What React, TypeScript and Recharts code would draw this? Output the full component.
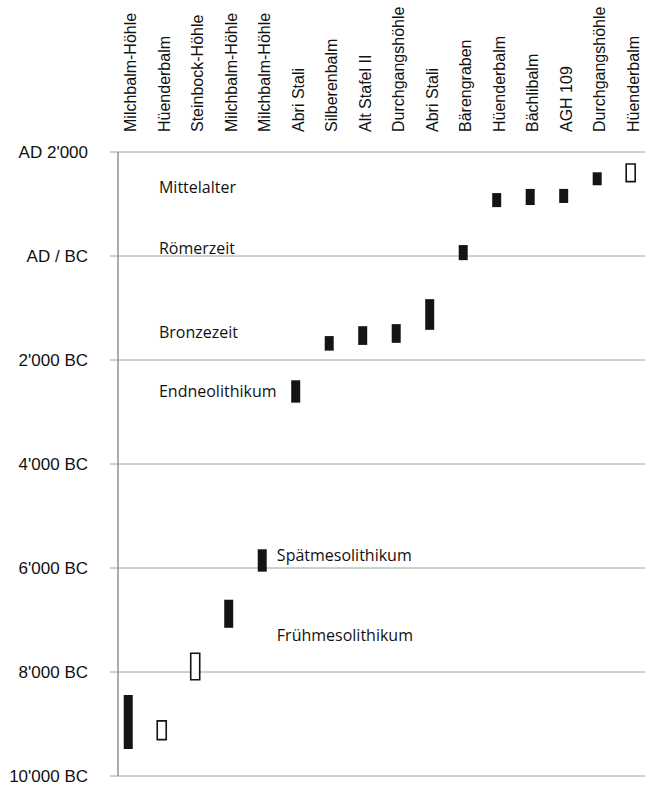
import React from 'react';
import {
  ComposedChart, Bar, Cell, XAxis, YAxis, CartesianGrid, ReferenceDot
} from 'recharts';

// Fundstellen (columns, left to right)
const sites = [
  'Milchbalm-Höhle', 'Hüenderbalm', 'Steinbock-Höhle', 'Milchbalm-Höhle', 'Milchbalm-Höhle',
  'Abri Stali', 'Silberenbalm', 'Alt Stafel II', 'Durchgangshöhle', 'Abri Stali',
  'Bärengraben', 'Hüenderbalm', 'Bächlibalm', 'AGH 109', 'Durchgangshöhle', 'Hüenderbalm'
];
// dating ranges, years (negative = BC)
const fromYears = [-9480, -9300, -8150, -7150, -6070, -2820, -1820, -1710, -1670, -1420, -80, 940, 980, 1020, 1360, 1430];
const toYears = [-8440, -8940, -7640, -6610, -5640, -2390, -1540, -1350, -1310, -830, 210, 1210, 1290, 1290, 1610, 1770];
// open boxes
const openBox = [false, true, true, false, false, false, false, false, false, false, false, false, false, false, false, true];

const yTicks = [-10000, -8000, -6000, -4000, -2000, 0, 2000];
const yTickLabels = ["10'000 BC", "8'000 BC", "6'000 BC", "4'000 BC", "2'000 BC", 'AD / BC', "AD 2'000"];

const eraNames = ['Mittelalter', 'Römerzeit', 'Bronzezeit', 'Endneolithikum', 'Spätmesolithikum', 'Frühmesolithikum'];
const eraYears = [1212, 38, -1577, -2712, -5865, -7404];
const eraCols = [0.91, 0.91, 0.91, 0.91, 4.43, 4.43];

const data = sites.map((s, i) => ({
  idx: i,
  site: s,
  range: [fromYears[i], toYears[i]],
  open: openBox[i]
}));

const GRID = '#97a69c';
const INK = '#141414';

const SiteTick = (props: any) => {
  const { x, y, payload } = props;
  return (
    <text
      x={0}
      y={0}
      transform={`translate(${x + 8},${y}) rotate(-90)`}
      textAnchor="start"
      fill="#111"
      fontSize={16}
      fontFamily="'Liberation Sans', Arial, sans-serif"
    >
      {sites[payload.value]}
    </text>
  );
};

const EraLabel = (name: string) => (props: any) => (
  <text
    x={props.cx}
    y={props.cy}
    fill="#111"
    fontSize={16}
    fontFamily="'Open Sans', sans-serif"
  >
    {name}
  </text>
);

export default function App() {
  return (
    <div style={{ position: 'absolute', left: 0, top: 0, width: 645, height: 787, background: '#fff', overflow: 'hidden' }}>
      <style>{'html, body { overflow: hidden; margin: 0; }'}</style>
      <ComposedChart
        width={645}
        height={787}
        data={data}
        margin={{ top: 0, right: 0, bottom: 11, left: 0 }}
      >
        <CartesianGrid vertical={false} stroke={GRID} strokeWidth={1} />
        <XAxis
          dataKey="idx"
          type="number"
          orientation="top"
          domain={[-0.313, 15.42]}
          allowDataOverflow
          ticks={sites.map((_, i) => i)}
          height={152}
          axisLine={false}
          tickLine={false}
          tickSize={0}
          tickMargin={20}
          interval={0}
          tick={<SiteTick />}
        />
        <YAxis
          type="number"
          domain={[-10000, 2000]}
          ticks={yTicks}
          width={118}
          interval={0}
          axisLine={{ stroke: '#5a5a5a', strokeWidth: 1 }}
          tickLine={{ stroke: GRID }}
          tickSize={8}
          tickMargin={22}
          tickFormatter={(v: number) => yTickLabels[yTicks.indexOf(v)]}
          tick={{ fill: '#111', fontSize: 17, fontFamily: "'Liberation Sans', Arial, sans-serif" }}
        />
        <Bar dataKey="range" barSize={9} isAnimationActive={false}>
          {data.map((d, i) => (
            <Cell
              key={`c-${i}`}
              fill={d.open ? '#ffffff' : INK}
              stroke={d.open ? INK : 'none'}
              strokeWidth={d.open ? 1.6 : 0}
            />
          ))}
        </Bar>
        {eraNames.map((n, i) => (
          <ReferenceDot
            key={n}
            x={eraCols[i]}
            y={eraYears[i]}
            r={0}
            ifOverflow="visible"
            shape={EraLabel(n)}
          />
        ))}
      </ComposedChart>
    </div>
  );
}
